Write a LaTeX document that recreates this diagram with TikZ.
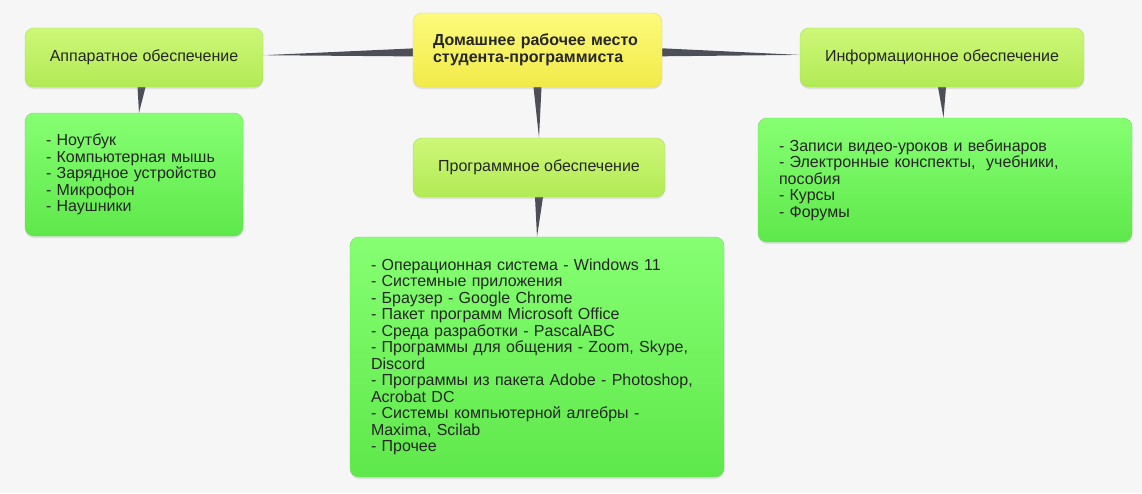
\documentclass[tikz,border=0pt]{standalone}
\usepackage{fontspec}
\setmainfont{Liberation Sans}
\usepackage{tikz}
\usetikzlibrary{shadows}
\definecolor{paper}{HTML}{F6F6F6}
\definecolor{wirecol}{HTML}{4C4F58}
\definecolor{yeltop}{HTML}{FCFA7C}
\definecolor{yelbot}{HTML}{F2EA48}
\definecolor{yelline}{HTML}{E2DA6A}
\definecolor{limetop}{HTML}{CDF778}
\definecolor{limebot}{HTML}{B2EA55}
\definecolor{limeline}{HTML}{ABDC62}
\definecolor{greentop}{HTML}{86FF72}
\definecolor{greenbot}{HTML}{5EE84A}
\definecolor{greenline}{HTML}{6ADB58}
\pgfdeclarelayer{bg}
\pgfdeclarelayer{wires}
\pgfsetlayers{bg,wires,main}
\tikzset{
    every node/.style={font=\fontsize{16}{16.5}\selectfont, text=black!85},
    boxshadow/.style={drop shadow={shadow xshift=0pt, shadow yshift=-2pt, opacity=0.18}},
    rootbox/.style={draw=yelline, rounded corners=9pt, top color=yeltop, bottom color=yelbot,
        boxshadow, minimum height=74pt, inner xsep=20pt, text width=209pt, align=left,
        font=\fontsize{16}{16.5}\selectfont\bfseries},
    topicbox/.style={draw=limeline, rounded corners=9pt, top color=limetop, bottom color=limebot,
        boxshadow, minimum height=59pt},
    listbox/.style={draw=greenline, rounded corners=9pt, top color=greentop, bottom color=greenbot,
        boxshadow, inner xsep=21pt, align=left},
    wire/.style={fill=wirecol}
}

\begin{document}
\begin{tikzpicture}[x=1pt, y=1pt]
        \useasboundingbox (0,0) rectangle (1142,-493);
        \begin{pgfonlayer}{bg}
            \fill[paper] (0,0) rectangle (1142,-493);
        \end{pgfonlayer}

        \node[rootbox] (root) at (537.5,-50) {Домашнее рабочее место\\студента-программиста};
        \node[topicbox, minimum width=238pt] (hw) at (144,-57.5) {Аппаратное обеспечение};
        \node[topicbox, minimum width=252pt] (sw) at (539,-167.5) {Программное обеспечение};
        \node[topicbox, minimum width=284pt] (info) at (942,-57.5) {Информационное обеспечение};

        \node[listbox, text width=176pt, minimum height=123pt] (hwlist) at (134,-174.5)
            {- Ноутбук\\- Компьютерная мышь\\- Зарядное устройство\\- Микрофон\\- Наушники};
        \node[listbox, text width=332pt, minimum height=240pt] (swlist) at (537,-357)
            {- Операционная система - Windows 11\\- Системные приложения\\- Браузер - Google Chrome\\
             - Пакет программ Microsoft Office\\- Среда разработки - PascalABC\\
             - Программы для общения - Zoom, Skype,\\Discord\\
             - Программы из пакета Adobe - Photoshop,\\Acrobat DC\\
             - Системы компьютерной алгебры -\\Maxima, Scilab\\- Прочее};
        \node[listbox, text width=332pt, minimum height=124pt] (infolist) at (945,-180)
            {- Записи видео-уроков и вебинаров\\- Электронные конспекты,~ учебники,\\пособия\\
             - Курсы\\- Форумы};

        \begin{pgfonlayer}{wires}
            \fill[wire] ([yshift=1.6pt]root.west) -- ([yshift=-6.4pt]root.west) -- ([yshift=2.3pt]hw.east) -- cycle;
            \fill[wire] ([yshift=1.7pt]root.east) -- ([yshift=-6.3pt]root.east) -- ([yshift=2.6pt]info.west) -- cycle;
            \fill[wire] ([xshift=-4pt]root.south) -- ([xshift=4pt]root.south) -- (sw.north) -- cycle;
            \fill[wire] ([xshift=-4pt]sw.south) -- ([xshift=4pt]sw.south) -- (swlist.north) -- cycle;
            \fill[wire] ([xshift=-6.5pt]hw.south) -- ([xshift=1.5pt]hw.south) -- ([xshift=5pt]hwlist.north) -- cycle;
            \fill[wire] ([xshift=-4pt]info.south) -- ([xshift=4pt]info.south) -- ([xshift=-1.5pt]infolist.north) -- cycle;
        \end{pgfonlayer}
    \end{tikzpicture}
\end{document}
